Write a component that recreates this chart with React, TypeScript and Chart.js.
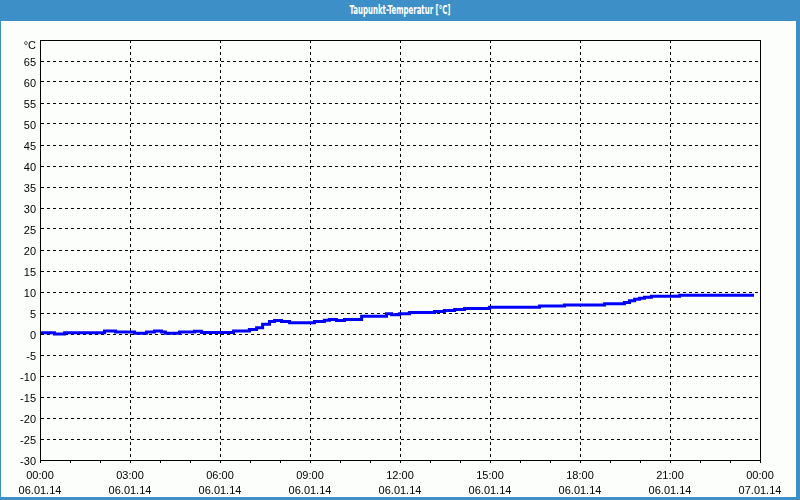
import React, { useEffect, useRef } from "react";
import { Chart, registerables } from "chart.js";

Chart.register(...registerables);

// Step starts (hours since 06.01.14 00:00) and dew point values (°C)
const hours = [
  0.0, 0.48, 0.82, 2.15, 2.52, 3.15, 3.55, 3.82, 4.05, 4.18, 4.65, 5.15, 5.38,
  6.45, 6.98, 7.22, 7.42, 7.65, 7.82, 8.05, 8.32, 9.15, 9.48, 9.65, 9.88, 10.15,
  10.72, 11.55, 11.72, 11.98, 12.32, 13.15, 13.48, 13.82, 14.15, 14.98, 16.65,
  17.48, 18.82, 19.48, 19.65, 19.82, 19.98, 20.15, 20.38, 21.32, 22.48, 23.8,
];
const values = [
  0.45, 0.3, 0.0, 0.3, 0.7, 0.45, 0.2, 0.45, 0.7, 0.45, 0.2, 0.45, 0.65,
  0.35, 0.7, 1.05, 1.5, 2.3, 3.0, 3.2, 2.95, 2.7, 2.95, 3.3, 3.45, 3.2,
  3.45, 4.2, 4.8, 4.6, 4.85, 5.1, 5.35, 5.6, 5.85, 6.1, 6.35,
  6.65, 6.9, 7.2, 7.5, 7.9, 8.3, 8.5, 8.75, 9.0, 9.2, 9.2,
];

const xTickTimes = ["00:00", "03:00", "06:00", "09:00", "12:00", "15:00", "18:00", "21:00", "00:00"];
const xTickDates = ["06.01.14", "06.01.14", "06.01.14", "06.01.14", "06.01.14", "06.01.14", "06.01.14", "06.01.14", "07.01.14"];

const title = "Taupunkt-Temperatur [°C]";
const unitLabel = "°C";
const yMin = -30;
const yMax = 70;

const FONT = "'Liberation Sans', Arial, sans-serif";
const TITLE_FONT = "'DejaVu Sans Condensed', 'DejaVu Sans', sans-serif";
const TITLE_WIDTH = 101;

export default function App() {
  const canvasRef = useRef<HTMLCanvasElement | null>(null);
  const titleRef = useRef<HTMLSpanElement | null>(null);

  useEffect(() => {
    const t = titleRef.current;
    if (t) {
      const w = t.getBoundingClientRect().width;
      if (w > 0) t.style.transform = `scaleX(${TITLE_WIDTH / w})`;
    }

    const canvas = canvasRef.current;
    if (!canvas) return;

    const boxPlugin = {
      id: "boxPlugin",
      afterDraw(chart: any) {
        const { ctx, chartArea } = chart;
        ctx.save();
        ctx.strokeStyle = "#000";
        ctx.lineWidth = 1;
        ctx.setLineDash([]);
        ctx.strokeRect(
          chartArea.left + 0.5,
          chartArea.top + 0.5,
          chartArea.right - chartArea.left,
          chartArea.bottom - chartArea.top
        );
        ctx.fillStyle = "#000";
        ctx.font = "11px " + FONT;
        ctx.textAlign = "right";
        ctx.textBaseline = "middle";
        ctx.fillText(unitLabel, chartArea.left - 4, chartArea.top + 6);
        ctx.restore();
      },
    };

    const chart = new Chart(canvas, {
      type: "line",
      data: {
        datasets: [
          {
            data: hours.map((h, i) => ({ x: h, y: values[i] })),
            borderColor: "#0000ff",
            borderWidth: 3,
            pointRadius: 0,
            stepped: "after",
            fill: false,
          },
        ],
      },
      options: {
        animation: false,
        responsive: false,
        devicePixelRatio: 1,
        layout: { padding: { top: 19, right: 36, bottom: 0, left: 0 } },
        plugins: {
          legend: { display: false },
          tooltip: { enabled: false },
          title: { display: false },
        },
        scales: {
          x: {
            type: "linear",
            min: 0,
            max: 24,
            afterFit(scale: any) {
              scale.height = 37;
            },
            grid: {
              color: (ctx: any) =>
                ctx.tick && ctx.tick.value % 3 === 0 ? "#000" : "rgba(0,0,0,0)",
              tickColor: "#000",
              tickLength: 3,
              lineWidth: 1,
            },
            border: { display: true, color: "#000", dash: [3, 3] },
            ticks: {
              stepSize: 1,
              autoSkip: false,
              maxRotation: 0,
              padding: 5,
              color: "#000",
              font: { family: FONT, size: 11, lineHeight: 15 / 11 },
              callback: (v: any) => {
                const n = Number(v);
                if (n % 3 !== 0) return "";
                const i = n / 3;
                return [xTickTimes[i], xTickDates[i]];
              },
            },
          },
          y: {
            type: "linear",
            min: yMin,
            max: yMax,
            afterFit(scale: any) {
              scale.width = 39;
            },
            grid: {
              color: "#000",
              drawTicks: false,
              lineWidth: 1,
            },
            border: { display: true, color: "#000", dash: [3, 3] },
            ticks: {
              stepSize: 5,
              padding: 4,
              labelOffset: 2,
              color: "#000",
              font: { family: FONT, size: 11 },
              callback: (v: any) => (Number(v) === yMax ? "" : String(v)),
            },
          },
        },
      },
      plugins: [boxPlugin],
    });

    return () => chart.destroy();
  }, []);

  return (
    <div
      style={{
        position: "fixed",
        left: 0,
        top: 0,
        width: 800,
        height: 500,
        background: "#3d8fc7",
      }}
    >
      <div
        style={{
          position: "absolute",
          left: 0,
          top: 0,
          width: 800,
          height: 21,
          lineHeight: "21px",
          textAlign: "center",
          color: "#ffffff",
          fontFamily: TITLE_FONT,
          fontSize: 12,
          fontWeight: "bold",
        }}
      >
        <span
          ref={titleRef}
          style={{ display: "inline-block", transformOrigin: "50% 50%", whiteSpace: "nowrap" }}
        >
          {title}
        </span>
      </div>
      <div
        style={{
          position: "absolute",
          left: 1,
          top: 21,
          width: 795,
          height: 476,
          background: "#fcfefc",
        }}
      >
        <canvas
          ref={canvasRef}
          width={795}
          height={476}
          style={{ width: 795, height: 476, display: "block" }}
        />
      </div>
    </div>
  );
}
